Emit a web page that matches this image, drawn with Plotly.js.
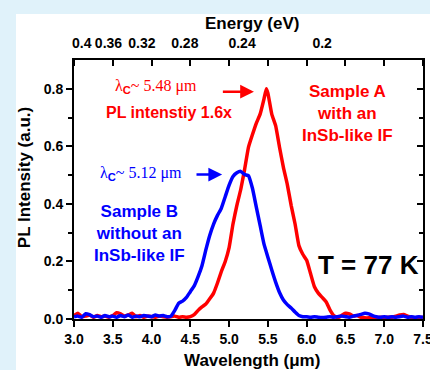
<!DOCTYPE html>
<html>
<head>
<meta charset="utf-8">
<script src="https://cdn.plot.ly/plotly-3.0.1.min.js"></script>
<style>
  html, body { margin: 0; padding: 0; background: #e0f2fa; width: 430px; height: 370px; overflow: hidden; }
  #sheet { position: absolute; left: 16px; top: 14px; width: 414px; height: 356px; background: #ffffff; }
  #chart { position: absolute; left: 0; top: 0; width: 430px; height: 370px; }
</style>
</head>
<body>
<div id="sheet"></div>
<div id="chart"></div>
<script>
// ---- data ----
const wavelengthB = [3.00,3.05,3.10,3.15,3.20,3.25,3.30,3.35,3.40,3.45,3.50,3.55,3.60,3.65,3.70,3.75,3.80,3.85,3.90,3.95,
  4.00,4.05,4.10,4.15,4.20,4.25,4.30,4.35,4.40,4.45,4.50,4.55,4.60,4.65,4.70,4.75,4.80,4.85,4.90,4.95,
  5.00,5.05,5.10,5.15,5.20,5.25,5.30,5.35,5.40,5.45,5.50,5.55,5.60,5.65,5.70,5.75,5.80,5.85,5.90,5.95,
  6.00,6.05,6.10,6.15,6.20,6.25,6.30,6.35,6.40,6.45,6.50,6.55,6.60,6.65,6.70,6.75,6.80,6.85,6.90,6.95,
  7.00,7.05,7.10,7.15,7.20,7.25,7.30,7.35,7.40,7.45,7.50];
const intensityB = [0.008,0.010,0.006,0.018,0.015,0.008,0.010,0.006,0.012,0.008,0.010,0.006,0.012,0.008,0.014,0.006,0.010,0.008,0.012,0.010,
  0.008,0.014,0.010,0.012,0.008,0.010,0.030,0.055,0.062,0.075,0.095,0.115,0.147,0.185,0.240,0.290,0.330,0.360,0.385,0.425,
  0.465,0.495,0.508,0.513,0.502,0.498,0.455,0.390,0.325,0.260,0.215,0.170,0.128,0.092,0.066,0.050,0.038,0.024,0.012,0.008,
  0.008,0.006,0.008,0.006,0.005,0.006,0.008,0.006,0.008,0.010,0.008,0.006,0.010,0.012,0.016,0.020,0.018,0.012,0.008,0.006,
  0.008,0.006,0.008,0.006,0.008,0.010,0.006,0.008,0.006,0.008,0.006];

const wavelengthA = [3.00,3.05,3.10,3.15,3.20,3.25,3.30,3.35,3.40,3.45,3.50,3.55,3.60,3.65,3.70,3.75,3.80,3.85,3.90,3.95,
  4.00,4.05,4.10,4.15,4.20,4.25,4.30,4.35,4.40,4.45,4.50,4.55,4.60,4.65,4.70,4.75,4.80,4.85,4.90,4.95,
  5.00,5.05,5.10,5.15,5.20,5.25,5.30,5.35,5.40,5.45,5.48,5.50,5.55,5.60,5.65,5.70,5.75,5.80,5.85,5.90,5.95,
  6.00,6.05,6.10,6.15,6.20,6.25,6.30,6.35,6.40,6.45,6.50,6.55,6.60,6.65,6.70,6.75,6.80,6.85,6.90,6.95,
  7.00,7.05,7.10,7.15,7.20,7.25,7.30,7.35,7.40,7.45,7.50];
const intensityA = [0.012,0.020,0.008,0.010,0.014,0.006,0.012,0.008,0.010,0.006,0.012,0.022,0.018,0.010,0.014,0.020,0.008,0.012,0.006,0.010,
  0.008,0.006,0.010,0.008,0.006,0.008,0.010,0.006,0.008,0.006,0.008,0.015,0.030,0.042,0.052,0.070,0.090,0.125,0.165,0.200,
  0.248,0.330,0.395,0.450,0.520,0.597,0.640,0.680,0.712,0.765,0.800,0.785,0.712,0.672,0.597,0.527,0.468,0.395,0.331,0.255,0.225,
  0.204,0.158,0.112,0.090,0.075,0.060,0.032,0.012,0.004,0.012,0.020,0.018,0.010,0.012,0.006,0.004,0.004,0.006,0.004,0.006,
  0.004,0.006,0.006,0.010,0.014,0.016,0.010,0.006,0.004,0.006,0.005];

const wavelengthTicks = [3.0,3.5,4.0,4.5,5.0,5.5,6.0,6.5,7.0,7.5];
const intensityTicks = [0.0,0.2,0.4,0.6,0.8];
const intensityMinorTicks = [0.1,0.3,0.5,0.7];
const energyTicks = [0.4,0.36,0.32,0.28,0.24,0.2];
const energyTickText = ['0.4','0.36','0.32','0.28','0.24','0.2'];
const energyTickPos = energyTicks.map(e => 1.24 / e); // eV -> µm

// ---- styles ----
const SANS = 'Liberation Sans, Arial, sans-serif';
const SERIF = 'Liberation Serif, Times New Roman, serif';
const RED = '#ff0000', BLUE = '#0000ff';
const XR = [3.0, 7.5], YR = [0, 0.9];

const traces = [
  { x: wavelengthA, y: intensityA, type: 'scatter', mode: 'lines', name: 'Sample A',
    xaxis: 'x', yaxis: 'y',
    line: { color: RED, width: 3.5, shape: 'spline', smoothing: 0.4 }, hoverinfo: 'skip' },
  { x: wavelengthB, y: intensityB, type: 'scatter', mode: 'lines', name: 'Sample B',
    xaxis: 'x2', yaxis: 'y2',
    line: { color: BLUE, width: 3.5, shape: 'spline', smoothing: 0.4 }, hoverinfo: 'skip' }
];

const tickFont = { family: SANS, size: 14, color: '#000', weight: 'bold' };

const layout = {
  width: 430, height: 370,
  margin: { l: 74, r: 7, t: 60, b: 51, pad: 0 },
  paper_bgcolor: 'rgba(0,0,0,0)', plot_bgcolor: '#ffffff',
  showlegend: false,
  xaxis: {
    range: XR, tickvals: wavelengthTicks, tickformat: '.1f',
    ticks: 'outside', ticklen: 6, tickwidth: 2, tickcolor: '#000',
    showline: true, linewidth: 2, linecolor: '#000', ticklabeloverflow: 'allow',
    showgrid: false, zeroline: false, tickfont: tickFont, fixedrange: true
  },
  xaxis2: {
    overlaying: 'x', side: 'top', anchor: 'y2', range: XR,
    tickvals: energyTickPos, ticktext: energyTickText,
    ticks: '', showline: true, linewidth: 2, linecolor: '#000',
    minor: { tickmode: 'array', tickvals: wavelengthTicks, ticks: 'inside', ticklen: 6, tickwidth: 2, tickcolor: '#000', showgrid: false },
    showgrid: false, zeroline: false,
    ticklabelstandoff: 4, tickfont: tickFont, fixedrange: true
  },
  yaxis: {
    range: YR, tickvals: intensityTicks, tickformat: '.1f',
    ticks: 'outside', ticklen: 6, tickwidth: 2, tickcolor: '#000',
    minor: { tickmode: 'array', tickvals: intensityMinorTicks, ticks: 'outside', ticklen: 4, tickwidth: 2, tickcolor: '#000', showgrid: false },
    showline: true, linewidth: 2, linecolor: '#000',
    showgrid: false, zeroline: false, tickfont: tickFont, fixedrange: true
  },
  yaxis2: {
    overlaying: 'y', side: 'right', anchor: 'x2', range: YR,
    tickvals: intensityTicks, showticklabels: false,
    ticks: 'inside', ticklen: 6, tickwidth: 2, tickcolor: '#000',
    minor: { tickmode: 'array', tickvals: intensityMinorTicks, ticks: 'inside', ticklen: 4, tickwidth: 2, tickcolor: '#000', showgrid: false },
    showline: true, linewidth: 2, linecolor: '#000',
    showgrid: false, zeroline: false, fixedrange: true
  },
  annotations: [
    // axis titles
    { xref: 'paper', yref: 'paper', x: 0.51, y: 1.14, text: 'Energy (eV)', showarrow: false,
      xanchor: 'center', yanchor: 'middle', font: { family: SANS, size: 17, color: '#000', weight: 'bold' } },
    { xref: 'paper', yref: 'paper', x: 0.51, y: -0.162, text: 'Wavelength (μm)', showarrow: false,
      xanchor: 'center', yanchor: 'middle', font: { family: SANS, size: 17, color: '#000', weight: 'bold' } },
    { xref: 'paper', yref: 'paper', x: -0.143, y: 0.544, text: 'PL Intensity (a.u.)', showarrow: false,
      textangle: -90, xanchor: 'center', yanchor: 'middle', font: { family: SANS, size: 17, color: '#000', weight: 'bold' } },
    // red notes
    { x: 4.06, y: 0.807, text: 'λ<sub><span style="font-family:Liberation Sans;font-weight:bold">C</span></sub>~ 5.48 μm',
      showarrow: false, xanchor: 'center', yanchor: 'middle', font: { family: SERIF, size: 16, color: RED } },
    { x: 5.32, y: 0.79, ax: 4.90, ay: 0.79, axref: 'x', ayref: 'y', text: '', showarrow: true,
      arrowhead: 2, arrowsize: 1.1, arrowwidth: 2.5, arrowcolor: RED, standoff: 0, startstandoff: 0 },
    { x: 4.22, y: 0.717, text: 'PL intenstiy 1.6x', showarrow: false, xanchor: 'center', yanchor: 'middle',
      font: { family: SANS, size: 16, color: RED, weight: 'bold' } },
    { x: 6.53, y: 0.713, text: 'Sample A<br>with an<br>InSb-like IF', showarrow: false, align: 'center',
      xanchor: 'center', yanchor: 'middle', font: { family: SANS, size: 17, color: RED, weight: 'bold' } },
    // blue notes
    { x: 3.86, y: 0.506, text: 'λ<sub><span style="font-family:Liberation Sans;font-weight:bold">C</span></sub>~ 5.12 μm',
      showarrow: false, xanchor: 'center', yanchor: 'middle', font: { family: SERIF, size: 16, color: BLUE } },
    { x: 4.91, y: 0.502, ax: 4.56, ay: 0.502, axref: 'x', ayref: 'y', text: '', showarrow: true,
      arrowhead: 2, arrowsize: 1.1, arrowwidth: 2.5, arrowcolor: BLUE, standoff: 0, startstandoff: 0 },
    { x: 3.85, y: 0.298, text: 'Sample B<br>without an<br>InSb-like IF', showarrow: false, align: 'center',
      xanchor: 'center', yanchor: 'middle', font: { family: SANS, size: 17, color: BLUE, weight: 'bold' } },
    // temperature
    { x: 6.80, y: 0.187, text: 'T = 77 K', showarrow: false, xanchor: 'center', yanchor: 'middle',
      font: { family: SANS, size: 26, color: '#000', weight: 'bold' } }
  ]
};

Plotly.newPlot('chart', traces, layout, { displayModeBar: false, staticPlot: true });
</script>
</body>
</html>
